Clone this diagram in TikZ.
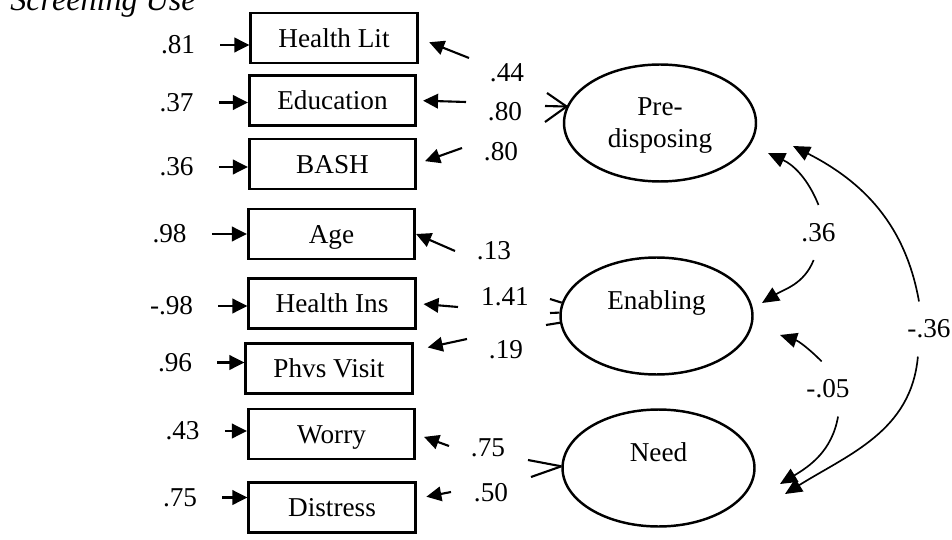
\documentclass[tikz,border=0pt]{standalone}
\usepackage{fontspec}
\setmainfont{Liberation Serif}
\usetikzlibrary{arrows.meta,positioning,shapes.geometric}
\tikzset{
    %Define standard arrow tip
    >={Triangle[length=0.3cm,width=0.29cm]},
    %Define style for boxes
    manifest/.style={
           rectangle,
           draw=black, line width=1.5pt,
           minimum width=3.33cm,
           minimum height=1.0cm,
           inner sep=0pt,
           text height=10.3pt, text depth=0pt,
           font=\fontsize{15.5}{18.2}\selectfont},
    latent/.style={
           ellipse,
           draw=black, line width=1.4pt,
           minimum width=3.84cm,
           minimum height=2.34cm,
           inner sep=0pt,
           align=center,
           text depth=0pt,
           font=\fontsize{15.5}{18.2}\selectfont},
    num/.style={
           inner sep=0pt,
           font=\fontsize{15.5}{18.2}\selectfont},
    covnum/.style={num, inner sep=0.36cm},
    % Define arrow style
    err/.style={->, line width=1.2pt, shorten <=0.5cm},
    load/.style={->, line width=1.2pt},
    stub/.style={line width=1.2pt},
    cov/.style={->, line width=0.95pt, >={Triangle[length=0.34cm,width=0.3cm]}}
}
\begin{document}
\begin{tikzpicture}[x=0.02cm,y=0.02cm,node distance=1.08cm]
\fill[white] (0,0) rectangle (952,-540);
\useasboundingbox (0,0) rectangle (952,-540);
\node[anchor=base west,inner sep=0pt,font=\fontsize{18.3}{20}\selectfont\itshape] (title) at (10,-11) {Screening Use};

% observed variables
\node[manifest] (hlit) at (334,-38) {Health Lit};
\node[manifest] (educ) at (332.5,-100.5) {Education};
\node[manifest] (bash) at (332.5,-164) {BASH};
\node[manifest] (age) at (331.5,-234) {Age};
\node[manifest] (hins) at (332,-303.5) {Health Ins};
\node[manifest] (phys) at (329,-368.5) {Phvs Visit};
\node[manifest] (worry) at (331.5,-434) {Worry};
\node[manifest] (distr) at (332,-507.5) {Distress};

% latent variables
\node[latent] (pre) at (660,-123) {Pre-\\disposing};
\node[latent] (ena) at (656.5,-316) {Enabling\\\mbox{}};
\node[latent] (need) at (658.5,-468) {Need\\\mbox{}};

% error terms
\node[num, left=of hlit, yshift=-0.14cm] (e1) {.81};
\node[num, left=of educ, yshift=-0.04cm] (e2) {.37};
\node[num, left=of bash, yshift=-0.06cm] (e3) {.36};
\node[num, left=1.2cm of age] (e4) {.98};
\node[num, left=of hins, yshift=-0.05cm] (e5) {-.98};
\node[num, left=1.04cm of phys, yshift=0.12cm] (e6) {.96};
\node[num, left=0.94cm of worry, yshift=0.06cm] (e7) {.43};
\node[num, left=1cm of distr, yshift=0.2cm] (e8) {.75};
\path[err]
	(e1.east) edge (e1.east -| hlit.west)
	(e2.east) edge (e2.east -| educ.west)
	(e3.east) edge (e3.east -| bash.west)
	(e4.east) edge (e4.east -| age.west)
	(e5.east) edge (e5.east -| hins.west)
	(e6.east) edge (e6.east -| phys.west)
	(e7.east) edge (e7.east -| worry.west)
	(e8.east) edge (e8.east -| distr.west);

% loadings
\node[num] (l1) at (507,-73) {.44};
\node[num] (l2) at (505,-112) {.80};
\node[num] (l3) at (501,-152) {.80};
\node[num] (l4) at (494,-251) {.13};
\node[num] (l5) at (505,-297) {1.41};
\node[num] (l6) at (506,-350) {.19};
\node[num] (l7) at (488,-448) {.75};
\node[num] (l8) at (491,-493) {.50};
\coordinate (t1) at (469,-58);
\coordinate (t2) at (466,-102);
\coordinate (t3) at (462,-148);
\coordinate (t4) at (455,-251);
\coordinate (t5) at (458,-307);
\coordinate (t6) at (467,-339);
\coordinate (t7) at (449,-446);
\coordinate (t8) at (451,-492);
\path[load]
	(t1) edge[shorten >=0.23cm] (hlit.east)
	(t2) edge[shorten >=0.12cm] (educ.east)
	(t3) edge[shorten >=0.17cm] (bash.east)
	(t4) edge (age.east)
	(t5) edge[shorten >=0.14cm] (hins.east)
	(t6) edge[shorten >=0.29cm] (phys.12)
	(t7) edge[shorten >=0.17cm] (worry.east)
	(t8) edge[shorten >=0.2cm] (distr.6);

% line ends at the factors
\coordinate (s1) at (547,-93);
\coordinate (s2) at (545,-106);
\coordinate (s3) at (545,-122);
\coordinate (s4) at (550,-299);
\coordinate (s5) at (550,-313);
\coordinate (s6) at (546,-325);
\coordinate (s7) at (528,-460);
\coordinate (s8) at (531,-477);
\path[stub]
	(s1) edge (pre.170)
	(s2) edge (pre.170)
	(s3) edge (pre.170)
	(s4) edge (ena.172)
	(s5) edge (ena.178)
	(s6) edge (ena.-176)
	(s7) edge (need.179)
	(s8) edge (need.179);

% covariances
\node[covnum] (c1) at (818.5,-232.5) {.36};
\node[covnum] (c2) at (828,-389) {-.05};
\node[covnum] (c3) at (929,-329) {-.36};
\coordinate (pA) at (768,-153);
\coordinate (pB) at (762,-303);
\coordinate (pC) at (780,-335);
\coordinate (pD) at (780,-484);
\coordinate (pE) at (793,-146);
\coordinate (pF) at (785,-494);
\path[cov]
	(c1.north) edge[out=112,in=-25] (pA)
	(c1.-100) edge[out=-112,in=32] (pB)
	(c2.103) edge[out=135,in=-18] (pC)
	(c2.-70) edge[out=-100,in=31] (pD)
	(c3.110) edge[out=100,in=-27] (pE)
	(c3.-112) edge[out=-95,in=32] (pF);
\end{tikzpicture}
\end{document}
